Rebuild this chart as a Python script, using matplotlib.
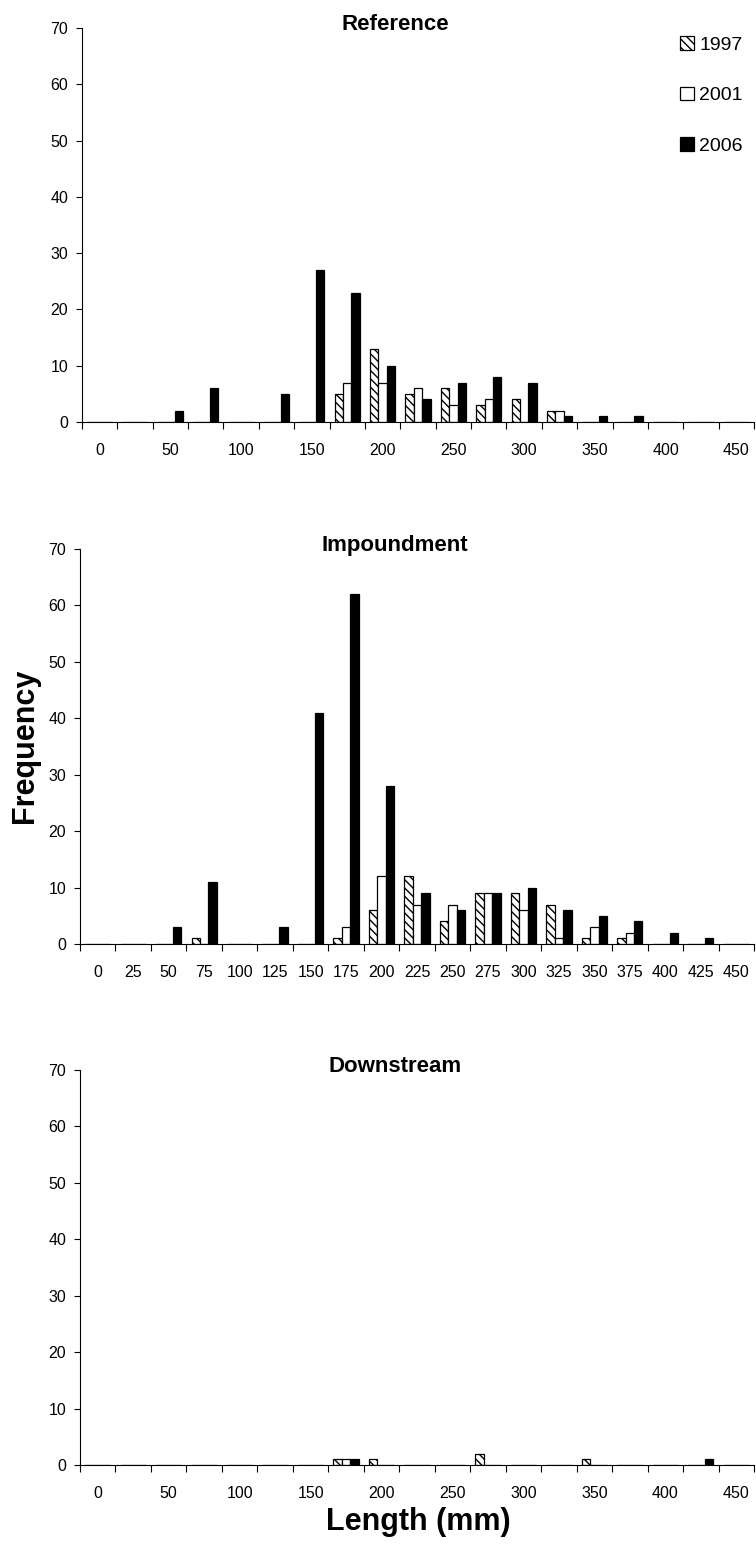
import matplotlib
matplotlib.use('Agg')
import matplotlib.pyplot as plt
import numpy as np

plt.rcParams['font.family'] = ['Liberation Sans', 'DejaVu Sans']
plt.rcParams['hatch.linewidth'] = 1.0

categories = [0, 25, 50, 75, 100, 125, 150, 175, 200, 225, 250, 275, 300, 325, 350, 375, 400, 425, 450]
years = ['1997', '2001', '2006']

ref_1997 = [0, 0, 0, 0, 0, 0, 0, 5, 13, 5, 6, 3, 4, 2, 0, 0, 0, 0, 0]
ref_2001 = [0, 0, 0, 0, 0, 0, 0, 7, 7, 6, 3, 4, 0, 2, 0, 0, 0, 0, 0]
ref_2006 = [0, 0, 2, 6, 0, 5, 27, 23, 10, 4, 7, 8, 7, 1, 1, 1, 0, 0, 0]

imp_1997 = [0, 0, 0, 1, 0, 0, 0, 1, 6, 12, 4, 9, 9, 7, 1, 1, 0, 0, 0]
imp_2001 = [0, 0, 0, 0, 0, 0, 0, 3, 12, 7, 7, 9, 6, 1, 3, 2, 0, 0, 0]
imp_2006 = [0, 0, 3, 11, 0, 3, 41, 62, 28, 9, 6, 9, 10, 6, 5, 4, 2, 1, 0]

dn_1997 = [0, 0, 0, 0, 0, 0, 0, 1, 1, 0, 0, 2, 0, 0, 1, 0, 0, 0, 0]
dn_2001 = [0, 0, 0, 0, 0, 0, 0, 1, 0, 0, 0, 0, 0, 0, 0, 0, 0, 0, 0]
dn_2006 = [0, 0, 0, 0, 0, 0, 0, 1, 0, 0, 0, 0, 0, 0, 0, 0, 0, 1, 0]

titles = ['Reference', 'Impoundment', 'Downstream']
panels = [(ref_1997, ref_2001, ref_2006),
          (imp_1997, imp_2001, imp_2006),
          (dn_1997, dn_2001, dn_2006)]

W, H = 756, 1547
fig = plt.figure(figsize=(W / 100, H / 100), dpi=100)

# axes boxes in pixels: left, right, top, bottom
boxes = [(82, 754, 28, 422), (80, 754, 549, 944), (80, 754, 1070, 1465)]

styles = [dict(facecolor='white', edgecolor='black', hatch='\\\\\\\\'),
          dict(facecolor='white', edgecolor='black'),
          dict(facecolor='black', edgecolor='black')]

x = np.arange(len(categories))
w = 0.237
handles = None
for k, (box, title, data) in enumerate(zip(boxes, titles, panels)):
    l, r, t, b = box
    ax = fig.add_axes([l / W, 1 - b / H, (r - l) / W, (b - t) / H])
    hs = []
    for j, (vals, st) in enumerate(zip(data, styles)):
        bc = ax.bar(x + (j - 1) * w, vals, width=w, linewidth=0.9,
                    label=years[j], **st)
        hs.append(bc)
    if handles is None:
        handles = hs
    ax.set_xlim(-0.5, len(categories) - 0.5)
    ax.set_ylim(0, 70)
    ax.set_yticks(np.arange(0, 71, 10))
    ax.spines['top'].set_visible(False)
    ax.spines['right'].set_visible(False)
    ax.spines['left'].set_linewidth(0.8)
    ax.spines['bottom'].set_linewidth(0.8)
    ax.tick_params(axis='y', direction='out', length=4, width=0.8, pad=6, labelsize=11.5)
    ax.set_xticks(np.arange(-0.5, len(categories), 1))
    ax.set_xticklabels([])
    ax.tick_params(axis='x', which='major', direction='out', length=5, width=0.8)
    if k == 1:
        idx = list(range(len(categories)))
    else:
        idx = list(range(0, len(categories), 2))
    ax.set_xticks(x[idx], minor=True)
    ax.set_xticklabels([str(categories[i]) for i in idx], minor=True)
    ax.tick_params(axis='x', which='minor', length=0, pad=15, labelsize=11.5)
    fig.text(395 / W, 1 - (t + 2) / H, title, ha='center', va='baseline',
             fontsize=16, fontweight='bold')

fig.legend(handles, years, loc='upper left', bbox_to_anchor=(680 / W, 1 - 36 / H),
           frameon=False, fontsize=14, handlelength=0.7, handleheight=0.7,
           handletextpad=0.3, labelspacing=1.7, borderpad=0, borderaxespad=0)

fig.text(25 / W, 1 - 746 / H, 'Frequency', rotation=90, ha='center', va='center',
         fontsize=22, fontweight='bold')
fig.text(418 / W, 1 - 1522 / H, 'Length (mm)', ha='center', va='center',
         fontsize=22, fontweight='bold')

fig.savefig('out.png', dpi=100)
